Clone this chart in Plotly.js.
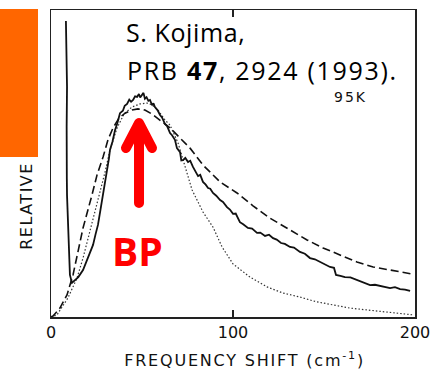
<!DOCTYPE html>
<html>
<head>
<meta charset="utf-8">
<script src="https://cdn.plot.ly/plotly-3.0.1.min.js"></script>
<style>
html,body{margin:0;padding:0;background:#fff;}
#chart{width:438px;height:371px;}
</style>
</head>
<body>
<div id="chart"></div>
<script>
// Measured spectrum (solid): frequency shift (cm-1) and relative intensity (0-100)
const measFreq = [8.2,8.6,8.8,8.6,8.5,8.7,8.8,9.3,10.0,10.4,11.5,13.2,15.0,17.6,20.3,21.5,23.1,24.5,25.8,27.2,28.6,30.0,30.8,31.8,32.4,33.8,35.2,36.4,37.9,39.5,40.5,41.8,43.0,44.0,45.1,46.2,47.3,48.3,49.0,50.0,50.8,51.6,52.5,53.5,54.4,55.5,56.3,57.1,58.5,59.9,61.0,62.6,63.8,65.4,66.5,68.1,69.2,70.9,71.6,72.5,73.8,75.3,76.5,78.0,79.3,80.8,82.0,83.5,85.0,86.3,87.5,89.0,90.8,92.9,94.5,96.7,98.3,100.0,101.5,103.8,105.6,108.2,110.5,113.2,115.0,117.6,119.8,122.0,124.0,126.4,128.5,131.3,133.5,136.8,139.5,142.3,145.0,147.8,150.5,153.3,155.5,156.6,159.0,161.5,164.5,168.1,171.5,175.3,178.0,180.8,183.5,186.3,189.0,191.8,194.5,197.3];
const measInt = [96.4,85,75,62,54,45,39.7,30,20,13.7,11.1,12.1,13.0,15.3,19.2,21,23.5,27,30.0,35,39.7,44.5,47.9,51.5,54.4,57.2,60.9,63.0,66.4,67.2,68.8,69.4,70.8,70.1,70.7,71.9,71.7,72.6,71.5,72.3,73.0,71.1,71.6,70.4,70.7,69.0,69.6,68.4,67.4,65.8,65.0,62.9,62.2,59.9,59.2,57.7,55.0,53.7,51.0,51.1,51.8,50.5,50.9,48.9,47.3,45.9,46.3,44.0,43.1,42.0,41.8,40.4,39.5,38.1,37.5,35.8,35.0,33.6,33.7,30.9,30.2,29.0,28.8,27.4,27.5,26.4,26.8,25.7,25.2,24.1,23.8,22.8,22.6,21.2,20.6,19.2,18.8,17.9,17.0,16.3,16.0,13.7,13.4,13.0,12.9,12.1,11.3,10.4,10.5,10.1,9.6,9.4,9.7,9.1,8.9,8.5];

// Fit 1 (dashed)
const fitAFreq = [0,1.1,4.9,8.8,12.1,14.8,17.6,22.5,25.3,28.6,31.3,34.1,37.4,40.7,44.5,47.8,51.6,55.5,59.9,65.4,70.9,76.4,83.5,92.9,102.2,111.0,120.3,131.3,140.7,149.5,158.8,168.1,177.0,186.3,198.4];
const fitAInt  = [0,0.3,2.9,7.2,13.7,21.2,29.0,39.7,46.3,52.1,57.7,61.6,64.8,66.4,67.4,67.8,67.4,66.1,64.2,61.6,58.3,55.0,49.5,44.0,40.4,36.2,32.2,28.3,25.1,22.5,20.2,17.9,16.3,15.3,14.0];

// Fit 2 (dotted)
const fitBFreq = [0,3.3,9.3,14.3,17.6,21.4,26.4,29.7,32.4,36.3,40.1,44.5,48.9,52.7,55.5,58.8,62.6,65.4,69.8,73.6,77.5,83.5,89.0,94.0,100.0,109.3,118.7,127.5,136.8,145.5,154.9,164.3,173.6,186.3,198.9];
const fitBInt  = [0,0.7,6.2,12.7,19.2,27.7,39.7,47.2,54.4,61.6,66.1,68.4,69.4,69.7,69.1,67.4,64.2,62.5,56.7,48.9,41.4,34.2,29.3,22.8,17.3,13.0,9.8,7.8,6.5,5.0,3.9,2.9,2.3,1.6,0.7];

const xTickVals = [0,100,200];
const xTickText = ['0','100','200'];

const traces = [
  {x: fitBFreq, y: fitBInt, mode:'lines', line:{color:'#333', width:1.2, dash:'1.5px,2px'}, hoverinfo:'skip'},
  {x: fitAFreq, y: fitAInt, mode:'lines', line:{color:'#111', width:1.6, dash:'8px,4px'}, hoverinfo:'skip'},
  {x: measFreq, y: measInt, mode:'lines', line:{color:'#111', width:1.8}, hoverinfo:'skip'}
];

const layout = {
  width:438, height:371,
  margin:{l:51, r:23, t:10, b:54},
  paper_bgcolor:'#fff', plot_bgcolor:'#fff',
  showlegend:false,
  font:{family:'DejaVu Sans', color:'#111'},
  xaxis:{range:[0,200], tickvals:xTickVals, ticktext:xTickText, ticks:'inside', ticklen:7, tickwidth:1.5, tickcolor:'#222',
         showline:true, mirror:'ticks', linecolor:'#222', linewidth:1.5, showgrid:false, zeroline:false,
         tickfont:{family:'DejaVu Sans', size:16, color:'#111'}},
  yaxis:{range:[0,100], showticklabels:false, ticks:'', showline:true, mirror:true, linecolor:'#222', linewidth:1.5,
         showgrid:false, zeroline:false},
  shapes:[
    {type:'rect', xref:'paper', yref:'paper', x0:-0.1401, x1:-0.0357, y0:0.521, y1:1.003, fillcolor:'#FF6600', line:{width:0}, layer:'above'},
    {type:'path', xref:'paper', yref:'paper', path:'M 0.2418,0.3713 L 0.2418,0.6250 M 0.2060,0.5505 L 0.2418,0.6319 L 0.2775,0.5505', line:{color:'#FF0000', width:10}, layer:'above'}
  ],
  annotations:[
    {xref:'paper', yref:'paper', x:0.2095, y:0.928, xanchor:'left', yanchor:'middle', showarrow:false, text:'S. Kojima,', font:{family:'Open Sans', size:25, color:'#000'}},
    {xref:'paper', yref:'paper', x:0.2507, y:0.806, xanchor:'left', yanchor:'middle', showarrow:false, text:'PRB <b>47</b>, 2924 (1993).', font:{family:'Open Sans', size:25, color:'#000'}},
    {xref:'paper', yref:'paper', x:0.823, y:0.717, xanchor:'center', yanchor:'middle', showarrow:false, text:'95K', font:{family:'DejaVu Sans', size:14, color:'#111'}},
    {xref:'paper', yref:'paper', x:0.239, y:0.215, xanchor:'center', yanchor:'middle', showarrow:false, text:'<b>BP</b>', font:{family:'Open Sans', size:39, color:'#FF0000'}},
    {xref:'paper', yref:'paper', x:-0.066, y:0.362, xanchor:'center', yanchor:'middle', showarrow:false, textangle:-90, text:'RELATIVE', font:{family:'DejaVu Sans', size:16, color:'#111'}},
    {xref:'paper', yref:'paper', x:0.532, y:-0.14, xanchor:'center', yanchor:'middle', showarrow:false, text:'FREQUENCY SHIFT (cm<sup>-1</sup>)', font:{family:'DejaVu Sans', size:16, color:'#111'}}
  ]
};

Plotly.newPlot('chart', traces, layout, {staticPlot:true, displayModeBar:false}).then(function(){
  document.querySelectorAll('.shapelayer path').forEach(function(p){
    p.style.strokeLinejoin='round'; p.style.strokeLinecap='round';
  });
  document.querySelectorAll('text.annotation-text').forEach(function(t){
    const s = t.textContent;
    if (s.indexOf('FREQUENCY')===0) t.style.letterSpacing='1.8px';
    if (s==='RELATIVE') t.style.letterSpacing='1.5px';
    if (s==='95K') t.style.letterSpacing='2px';
    if (s.indexOf('PRB')===0) t.style.letterSpacing='1.7px';
    if (s.indexOf('S. K')===0) t.style.letterSpacing='0.6px';
  });
});
</script>
</body>
</html>
